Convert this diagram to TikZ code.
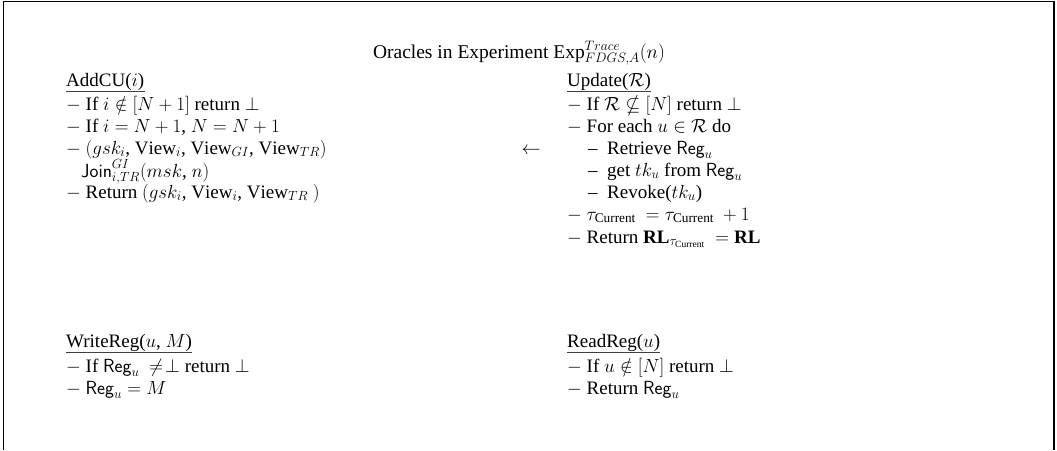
\RequirePackage{fix-cm}
\documentclass[tikz,border=0pt]{standalone}
\usepackage{amsmath,amssymb}
\usepackage{fontspec}
\setmainfont{Liberation Serif}
\begin{document}
\begin{tikzpicture}[x=1pt,y=-1pt,
  txt/.style={anchor=base west,inner sep=0pt,font=\fontsize{19}{22}\selectfont},
  hdr/.style={txt},
  uline/.style={line width=1.4pt,draw=black!75}]
\useasboundingbox (0,0) rectangle (1057,450);
\draw[line width=1.2pt] (3.5,450) -- (3.5,1.5) -- (1054,1.5) -- (1054,450);
% title
\node[anchor=base,inner sep=0pt,font=\fontsize{19.5}{22}\selectfont] (title) at (519,58)
  {Oracles in Experiment $\mathrm{Exp}^{Trace}_{FDGS,A}(n)$};
% AddCU
\node[hdr] (h1) at (66,86) {AddCU($i$)};
\draw[uline] ([yshift=-5.5pt]h1.base west) -- ([yshift=-5.5pt]h1.base east);
\node[txt] (a1) at (66,110) {$-$ If $i\notin[N+1]$ return $\bot$};
\node[txt] (a2) at (66,132) {$-$ If $i=N+1$, $N=N+1$};
\node[txt] (a3) at (66,154) {$-$ $(gsk_i$, $\mathrm{View}_i$, $\mathrm{View}_{GI}$, $\mathrm{View}_{TR})$};
\node[txt] (a4) at (81,177) {$\mathsf{Join}^{GI}_{i,TR}(msk$, $n)$};
\node[txt] (a5) at (66,198) {$-$ Return $(gsk_i$, $\mathrm{View}_i$, $\mathrm{View}_{TR}$ $)$};
\node[anchor=base,inner sep=0pt,font=\fontsize{19}{22}\selectfont] (arr) at (531,154) {$\leftarrow$};
% Update
\node[hdr] (h2) at (567,86) {Update($\mathcal{R}$)};
\draw[uline] ([yshift=-5.5pt]h2.base west) -- ([yshift=-5.5pt]h2.base east);
\node[txt] (b1) at (567,110) {$-$ If $\mathcal{R}\nsubseteq[N]$ return $\bot$};
\node[txt] (b2) at (567,132) {$-$ For each $u\in\mathcal{R}$ do};
\node[txt] (b3) at (588,154) {--\enspace Retrieve $\mathsf{Reg}_u$};
\node[txt] (b4) at (588,176) {--\enspace get $tk_u$ from $\mathsf{Reg}_u$};
\node[txt] (b5) at (588,198) {--\enspace Revoke($tk_u$)};
\node[txt] (b6) at (567,220) {$-$ $\tau_{\mathrm{Current}}\ =\tau_{\mathrm{Current}}\ +1$};
\node[txt] (b7) at (567,243) {$-$ Return $\mathbf{RL}_{\tau_{\mathrm{Current}}}\ =\mathbf{RL}$};
% WriteReg
\node[hdr] (h3) at (66,347) {WriteReg($u$, $M$)};
\draw[uline] ([yshift=-5.5pt]h3.base west) -- ([yshift=-5.5pt]h3.base east);
\node[txt] (c1) at (66,372) {$-$ If $\mathsf{Reg}_u\ \neq\!\bot$ return $\bot$};
\node[txt] (c2) at (66,394) {$-$ $\mathsf{Reg}_u=M$};
% ReadReg
\node[hdr] (h4) at (567,347) {ReadReg($u$)};
\draw[uline] ([yshift=-5.5pt]h4.base west) -- ([yshift=-5.5pt]h4.base east);
\node[txt] (d1) at (567,372) {$-$ If $u\notin[N]$ return $\bot$};
\node[txt] (d2) at (567,394) {$-$ Return $\mathsf{Reg}_u$};
\end{tikzpicture}
\end{document}
